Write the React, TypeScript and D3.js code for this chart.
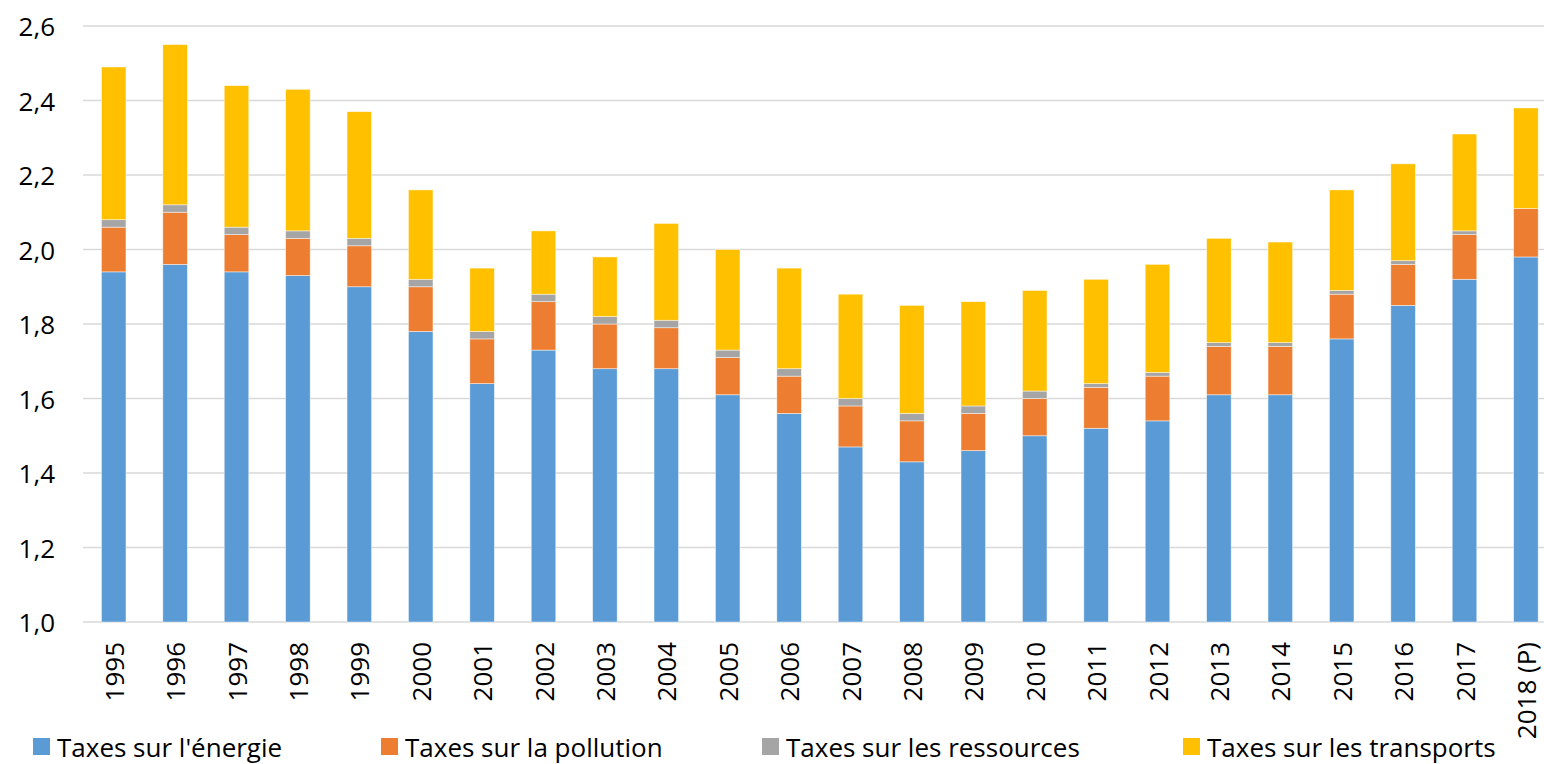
import React, { useEffect, useRef } from 'react';
import * as d3 from 'd3';

const years = ['1995', '1996', '1997', '1998', '1999', '2000', '2001', '2002', '2003', '2004', '2005', '2006',
  '2007', '2008', '2009', '2010', '2011', '2012', '2013', '2014', '2015', '2016', '2017', '2018 (P)'];

const energie = [1.94, 1.96, 1.94, 1.93, 1.90, 1.78, 1.64, 1.73, 1.68, 1.68, 1.61, 1.56,
  1.47, 1.43, 1.46, 1.50, 1.52, 1.54, 1.61, 1.61, 1.76, 1.85, 1.92, 1.98];
const pollution = [0.12, 0.14, 0.10, 0.10, 0.11, 0.12, 0.12, 0.13, 0.12, 0.11, 0.10, 0.10,
  0.11, 0.11, 0.10, 0.10, 0.11, 0.12, 0.13, 0.13, 0.12, 0.11, 0.12, 0.13];
const ressources = [0.02, 0.02, 0.02, 0.02, 0.02, 0.02, 0.02, 0.02, 0.02, 0.02, 0.02, 0.02,
  0.02, 0.02, 0.02, 0.02, 0.01, 0.01, 0.01, 0.01, 0.01, 0.01, 0.01, 0.0];
const transports = [0.41, 0.43, 0.38, 0.38, 0.34, 0.24, 0.17, 0.17, 0.16, 0.26, 0.27, 0.27,
  0.28, 0.29, 0.28, 0.27, 0.28, 0.29, 0.28, 0.27, 0.27, 0.26, 0.26, 0.27];

const seriesNames = ["Taxes sur l'énergie", 'Taxes sur la pollution', 'Taxes sur les ressources', 'Taxes sur les transports'];
const yTicks = [1.0, 1.2, 1.4, 1.6, 1.8, 2.0, 2.2, 2.4, 2.6];

const colors = ['#5B9BD5', '#ED7D31', '#A5A5A5', '#FFC000'];
const FONT = 'Open Sans, sans-serif';

const App = () => {
  const ref = useRef<SVGSVGElement>(null);

  useEffect(() => {
    const width = 1544;
    const svg = d3.select(ref.current);
    svg.selectAll('*').remove();

    const rows = years.map((y, i) => ({
      year: y,
      e: energie[i], p: pollution[i], r: ressources[i], t: transports[i],
    }));
    const series = d3.stack<any>().keys(['e', 'p', 'r', 't'])(rows);

    const x = d3.scaleBand()
      .domain(years)
      .range([83, 83 + 24 * 61.4])
      .paddingInner(0.6)
      .paddingOuter(0.3);

    const y = d3.scaleLinear()
      .domain([1.0, 2.6])
      .range([622, 26]);

    // gridlines
    svg.append('g')
      .selectAll('line')
      .data(yTicks)
      .join('line')
        .attr('x1', 83)
        .attr('x2', width)
        .attr('y1', d => y(d))
        .attr('y2', d => y(d))
        .attr('stroke', '#D9D9D9')
        .attr('stroke-width', 1.5);

    // bars (axis starts at 1.0, so the bottom segment is clipped there)
    svg.append('g')
      .selectAll('g')
      .data(series)
      .join('g')
        .attr('fill', (d, i) => colors[i])
      .selectAll('rect')
      .data(d => d)
      .join('rect')
        .attr('x', d => x(d.data.year)!)
        .attr('width', x.bandwidth())
        .attr('y', d => y(d[1]))
        .attr('height', d => Math.max(0, y(Math.max(1, d[0])) - y(d[1])))
        .attr('stroke', 'rgba(255,255,255,0.6)')
        .attr('stroke-width', 0.75);

    // y axis labels
    svg.append('g')
      .selectAll('text')
      .data(yTicks)
      .join('text')
        .attr('x', 55)
        .attr('y', d => y(d))
        .attr('text-anchor', 'end')
        .attr('dominant-baseline', 'central')
        .style('font-family', FONT)
        .style('font-size', '26px')
        .attr('fill', '#000')
        .text(d => d3.format('.1f')(d).replace('.', ','));

    // x axis labels
    svg.append('g')
      .selectAll('text')
      .data(years)
      .join('text')
        .attr('transform', d => `translate(${x(d)! + x.bandwidth() / 2}, 642) rotate(-90)`)
        .attr('text-anchor', 'end')
        .attr('dominant-baseline', 'central')
        .style('font-family', FONT)
        .style('font-size', '26px')
        .attr('fill', '#000')
        .text(d => d);

    // legend
    const legendX = [33, 381, 762, 1183];
    const legend = svg.append('g')
      .selectAll('g')
      .data(seriesNames)
      .join('g')
        .attr('transform', (d, i) => `translate(${legendX[i]}, 738)`);
    legend.append('rect')
      .attr('width', 17)
      .attr('height', 17)
      .attr('fill', (d, i) => colors[i]);
    legend.append('text')
      .attr('x', 24)
      .attr('y', 9)
      .attr('dominant-baseline', 'central')
      .style('font-family', FONT)
      .style('font-size', '26px')
      .attr('fill', '#000')
      .text(d => d);
  }, []);

  return (
    <svg ref={ref} width={1544} height={764}
      style={{ position: 'absolute', left: 0, top: 0, background: '#fff' }} />
  );
};

export default App;
